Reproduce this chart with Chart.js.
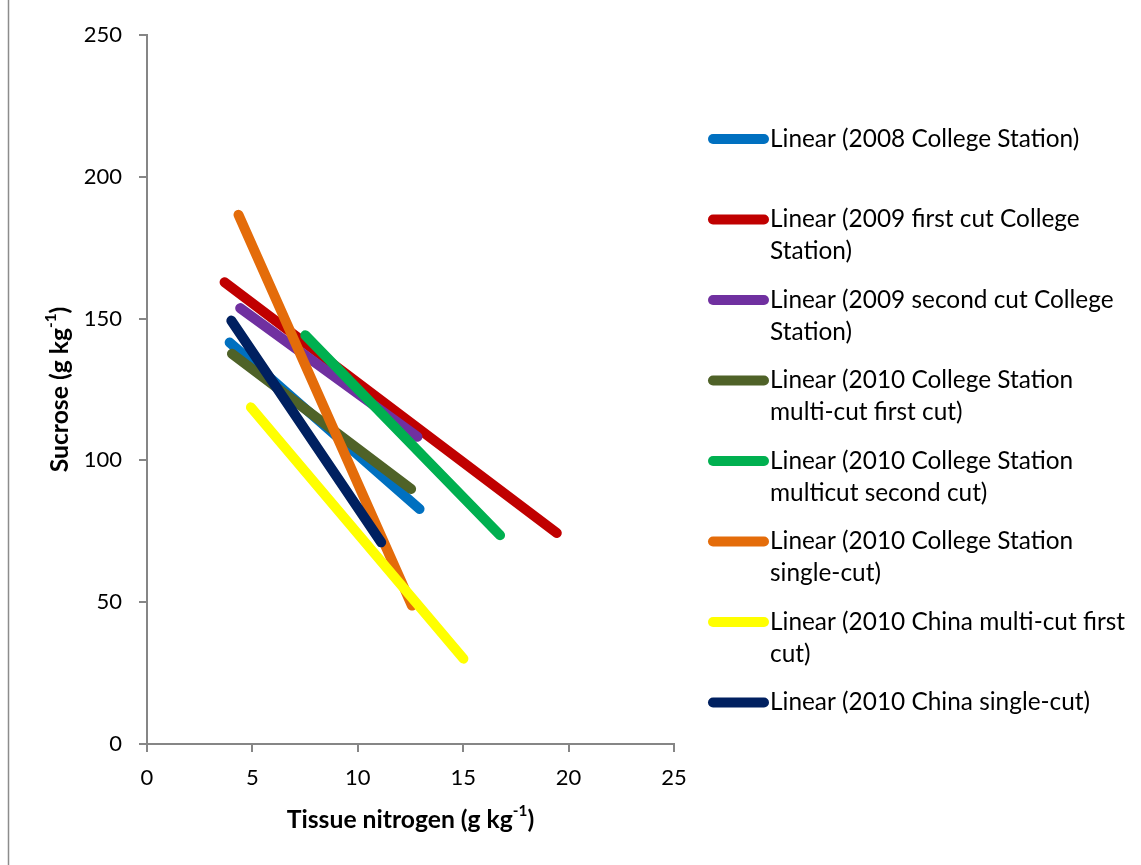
<!DOCTYPE html>
<html>
<head>
<meta charset="utf-8">
<title>Sucrose vs tissue nitrogen</title>
<script src="https://cdn.jsdelivr.net/npm/chart.js@4.4.1/dist/chart.umd.min.js"></script>
<style>
  html, body { margin: 0; padding: 0; background: #fff; }
  #wrap { position: relative; width: 1141px; height: 865px; }
</style>
</head>
<body>
<div id="wrap"><canvas id="grafico" width="1141" height="865"></canvas></div>
<script>
// Trend lines: start and end of each linear fit
const seriesLabels = [
  ["Linear (2008 College Station)"],
  ["Linear (2009 first cut College", "Station)"],
  ["Linear (2009 second cut College", "Station)"],
  ["Linear (2010 College Station", "multi-cut first cut)"],
  ["Linear (2010 College Station", "multicut second cut)"],
  ["Linear (2010 College Station", "single-cut)"],
  ["Linear (2010 China multi-cut first", "cut)"],
  ["Linear (2010 China single-cut)"]
];
const nitrogenStart = [3.92, 3.68, 4.42, 4.03, 7.51, 4.34, 4.93, 4.00];
const nitrogenEnd   = [12.93, 19.44, 12.83, 12.53, 16.75, 12.57, 15.01, 11.11];
const sucroseStart  = [141.6, 162.8, 153.7, 137.6, 144.1, 186.6, 118.7, 149.3];
const sucroseEnd    = [82.9, 74.4, 108.3, 89.9, 73.6, 48.8, 30.1, 71.1];
const xTicks = [0, 5, 10, 15, 20, 25];
const yTicks = [0, 50, 100, 150, 200, 250];

const colores = ["#0070C0", "#C00000", "#7030A0", "#4F6228", "#00B050", "#E46C0A", "#FFFF00", "#002060"];
const gris = "#868686";
const fuente = "Lato, 'Open Sans', sans-serif";

const datasets = seriesLabels.map((lbl, i) => ({
  label: lbl.join(" "),
  data: [
    { x: nitrogenStart[i], y: sucroseStart[i] },
    { x: nitrogenEnd[i], y: sucroseEnd[i] }
  ],
  borderColor: colores[i],
  backgroundColor: colores[i],
  borderWidth: 10,
  borderCapStyle: "round",
  pointRadius: 0,
  pointHoverRadius: 0,
  fill: false,
  // later series sit on top
  order: seriesLabels.length - i
}));

// font size that makes a text run the given width
function ajustar(ctx, texto, ancho, peso) {
  ctx.font = peso + " 20px " + fuente;
  return 20 * ancho / ctx.measureText(texto).width;
}

// text with a "-1" superscript, centred on x
function textoConSuper(ctx, base, sup, tail, x, y, size) {
  const fBase = "bold " + size.toFixed(1) + "px " + fuente;
  const fSup = "bold " + (size * 0.62).toFixed(1) + "px " + fuente;
  ctx.font = fBase;
  const w1 = ctx.measureText(base).width;
  const w3 = ctx.measureText(tail).width;
  ctx.font = fSup;
  const w2 = ctx.measureText(sup).width;
  let cx = x - (w1 + w2 + w3) / 2;
  ctx.textBaseline = "middle";
  ctx.textAlign = "left";
  ctx.font = fBase;
  ctx.fillText(base, cx, y);
  cx += w1;
  ctx.font = fSup;
  ctx.fillText(sup, cx, y - size * 0.38);
  cx += w2;
  ctx.font = fBase;
  ctx.fillText(tail, cx, y);
}

const extras = {
  id: "extras",
  afterDraw(chart) {
    const ctx = chart.ctx;
    const area = chart.chartArea;
    ctx.save();

    // frame line on the left
    ctx.strokeStyle = "#8c8c8c";
    ctx.lineWidth = 1.5;
    ctx.beginPath();
    ctx.moveTo(8.5, 0);
    ctx.lineTo(8.5, chart.height);
    ctx.stroke();

    // axis titles
    ctx.fillStyle = "#000";
    const tam = ajustar(ctx, "Tissue nitrogen (g kg-1)", 257, "bold");
    textoConSuper(ctx, "Tissue nitrogen (g kg", "-1", ")", (area.left + area.right) / 2, 820, tam);
    ctx.save();
    ctx.translate(60, (area.top + area.bottom) / 2);
    ctx.rotate(-Math.PI / 2);
    textoConSuper(ctx, "Sucrose (g kg", "-1", ")", 0, 0, tam);
    ctx.restore();

    // legend
    const lx0 = 713, lx1 = 764, tx = 770;
    const top = 139, paso = 80.5, linea = 32;
    const tl = ajustar(ctx, seriesLabels[0][0], 309, "normal");
    ctx.font = tl.toFixed(1) + "px " + fuente;
    ctx.textAlign = "left";
    ctx.textBaseline = "middle";
    seriesLabels.forEach((lbl, i) => {
      const y = top + i * paso;
      ctx.strokeStyle = colores[i];
      ctx.lineWidth = 10;
      ctx.lineCap = "round";
      ctx.beginPath();
      ctx.moveTo(lx0, y);
      ctx.lineTo(lx1, y);
      ctx.stroke();
      ctx.fillStyle = "#000";
      lbl.forEach((t, k) => ctx.fillText(t, tx, y + k * linea));
    });
    ctx.restore();
  }
};

new Chart(document.getElementById("grafico"), {
  type: "line",
  data: { datasets },
  options: {
    responsive: false,
    animation: false,
    layout: { padding: { left: 0, top: 35, right: 467, bottom: 0 } },
    plugins: {
      legend: { display: false },
      tooltip: { enabled: false }
    },
    scales: {
      x: {
        type: "linear",
        min: xTicks[0],
        max: xTicks[xTicks.length - 1],
        afterBuildTicks: s => { s.ticks = xTicks.map(v => ({ value: v })); },
        afterFit: s => { s.height = 121; },
        border: { color: gris, width: 2 },
        grid: { drawOnChartArea: false, drawTicks: true, tickLength: 8, color: gris, lineWidth: 2 },
        ticks: { color: "#000", padding: 13, font: { family: fuente, size: 22 } },
        title: { display: false }
      },
      y: {
        type: "linear",
        min: yTicks[0],
        max: yTicks[yTicks.length - 1],
        afterBuildTicks: s => { s.ticks = yTicks.map(v => ({ value: v })); },
        afterFit: s => { s.width = 147; },
        border: { color: gris, width: 2 },
        grid: { drawOnChartArea: false, drawTicks: true, tickLength: 8, color: gris, lineWidth: 2 },
        ticks: { color: "#000", padding: 17, font: { family: fuente, size: 22 } },
        title: { display: false }
      }
    }
  },
  plugins: [extras]
});
</script>
</body>
</html>
